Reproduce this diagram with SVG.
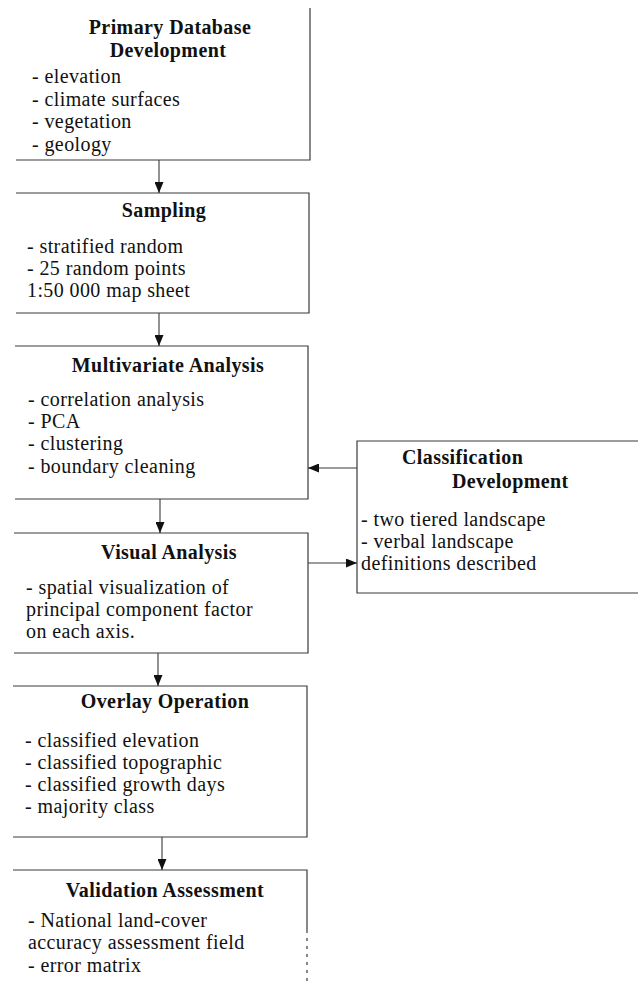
<svg xmlns="http://www.w3.org/2000/svg" width="638" height="983" viewBox="0 0 638 983">
  <style>
    .frame { fill: none; stroke: #3a3a3a; stroke-width: 1.2; }
    .link { fill: none; stroke: #3a3a3a; stroke-width: 1.1; marker-end: url(#head); }
    text { font-family: "Liberation Serif", "Times New Roman", serif; font-size: 20px; letter-spacing: 0.4px; fill: #111; }
    .title { font-weight: bold; text-anchor: middle; }
  </style>
  <defs>
    <marker id="head" markerUnits="userSpaceOnUse" markerWidth="11" markerHeight="9" refX="11" refY="4.5" orient="auto">
      <path d="M0,0 L11,4.5 L0,9 z" fill="#111"/>
    </marker>
  </defs>

  <rect width="638" height="983" fill="#fff"/>

  <!-- process boxes (open on the left, as printed) -->
  <g id="primary-database">
    <path class="frame" d="M16 160 H310 V8"/>
    <text class="title" x="170" y="34">Primary Database</text>
    <text class="title" x="168" y="57">Development</text>
    <text x="32" y="83">- elevation</text>
    <text x="32" y="106">- climate surfaces</text>
    <text x="32" y="128">- vegetation</text>
    <text x="32" y="151">- geology</text>
  </g>

  <g id="sampling">
    <path class="frame" d="M16 193 H309 V313 H16"/>
    <text class="title" x="164" y="217">Sampling</text>
    <text x="27" y="253">- stratified random</text>
    <text x="27" y="275">- 25 random points</text>
    <text x="27" y="297">1:50 000 map sheet</text>
  </g>

  <g id="multivariate-analysis">
    <path class="frame" d="M15 346 H308 V499 H15"/>
    <text class="title" x="168" y="372">Multivariate Analysis</text>
    <text x="28" y="406">- correlation analysis</text>
    <text x="28" y="428">- PCA</text>
    <text x="28" y="450">- clustering</text>
    <text x="28" y="473">- boundary cleaning</text>
  </g>

  <g id="visual-analysis">
    <path class="frame" d="M14 533 H308 V653 H14"/>
    <text class="title" x="169" y="559">Visual Analysis</text>
    <text x="26" y="594">- spatial visualization of</text>
    <text x="26" y="616">principal component factor</text>
    <text x="26" y="638">on each axis.</text>
  </g>

  <g id="overlay-operation">
    <path class="frame" d="M13 686 H307 V837 H13"/>
    <text class="title" x="165" y="708">Overlay Operation</text>
    <text x="25" y="747">- classified elevation</text>
    <text x="25" y="769">- classified topographic</text>
    <text x="25" y="791">- classified growth days</text>
    <text x="25" y="813">- majority class</text>
  </g>

  <g id="validation-assessment">
    <path class="frame" d="M13 870 H307 V930"/>
    <path class="frame" d="M307 930 V983" stroke-dasharray="3 5"/>
    <text class="title" x="165" y="897">Validation Assessment</text>
    <text x="28" y="927">- National land-cover</text>
    <text x="28" y="949">accuracy assessment field</text>
    <text x="28" y="972">- error matrix</text>
  </g>

  <g id="classification-development">
    <path class="frame" d="M638 441 H357 V593 H638"/>
    <text x="402" y="464" font-weight="bold">Classification</text>
    <text x="452" y="488" font-weight="bold">Development</text>
    <text x="361" y="526">- two tiered landscape</text>
    <text x="361" y="548">- verbal landscape</text>
    <text x="361" y="570">definitions described</text>
  </g>

  <!-- connectors -->
  <g id="connectors">
    <path class="link" d="M159 160 V193"/>
    <path class="link" d="M159 313 V346"/>
    <path class="link" d="M160 499 V533"/>
    <path class="link" d="M158 653 V686"/>
    <path class="link" d="M162 837 V870"/>
    <path class="link" d="M357 468 H308"/>
    <path class="link" d="M308 563 H357"/>
  </g>
</svg>
